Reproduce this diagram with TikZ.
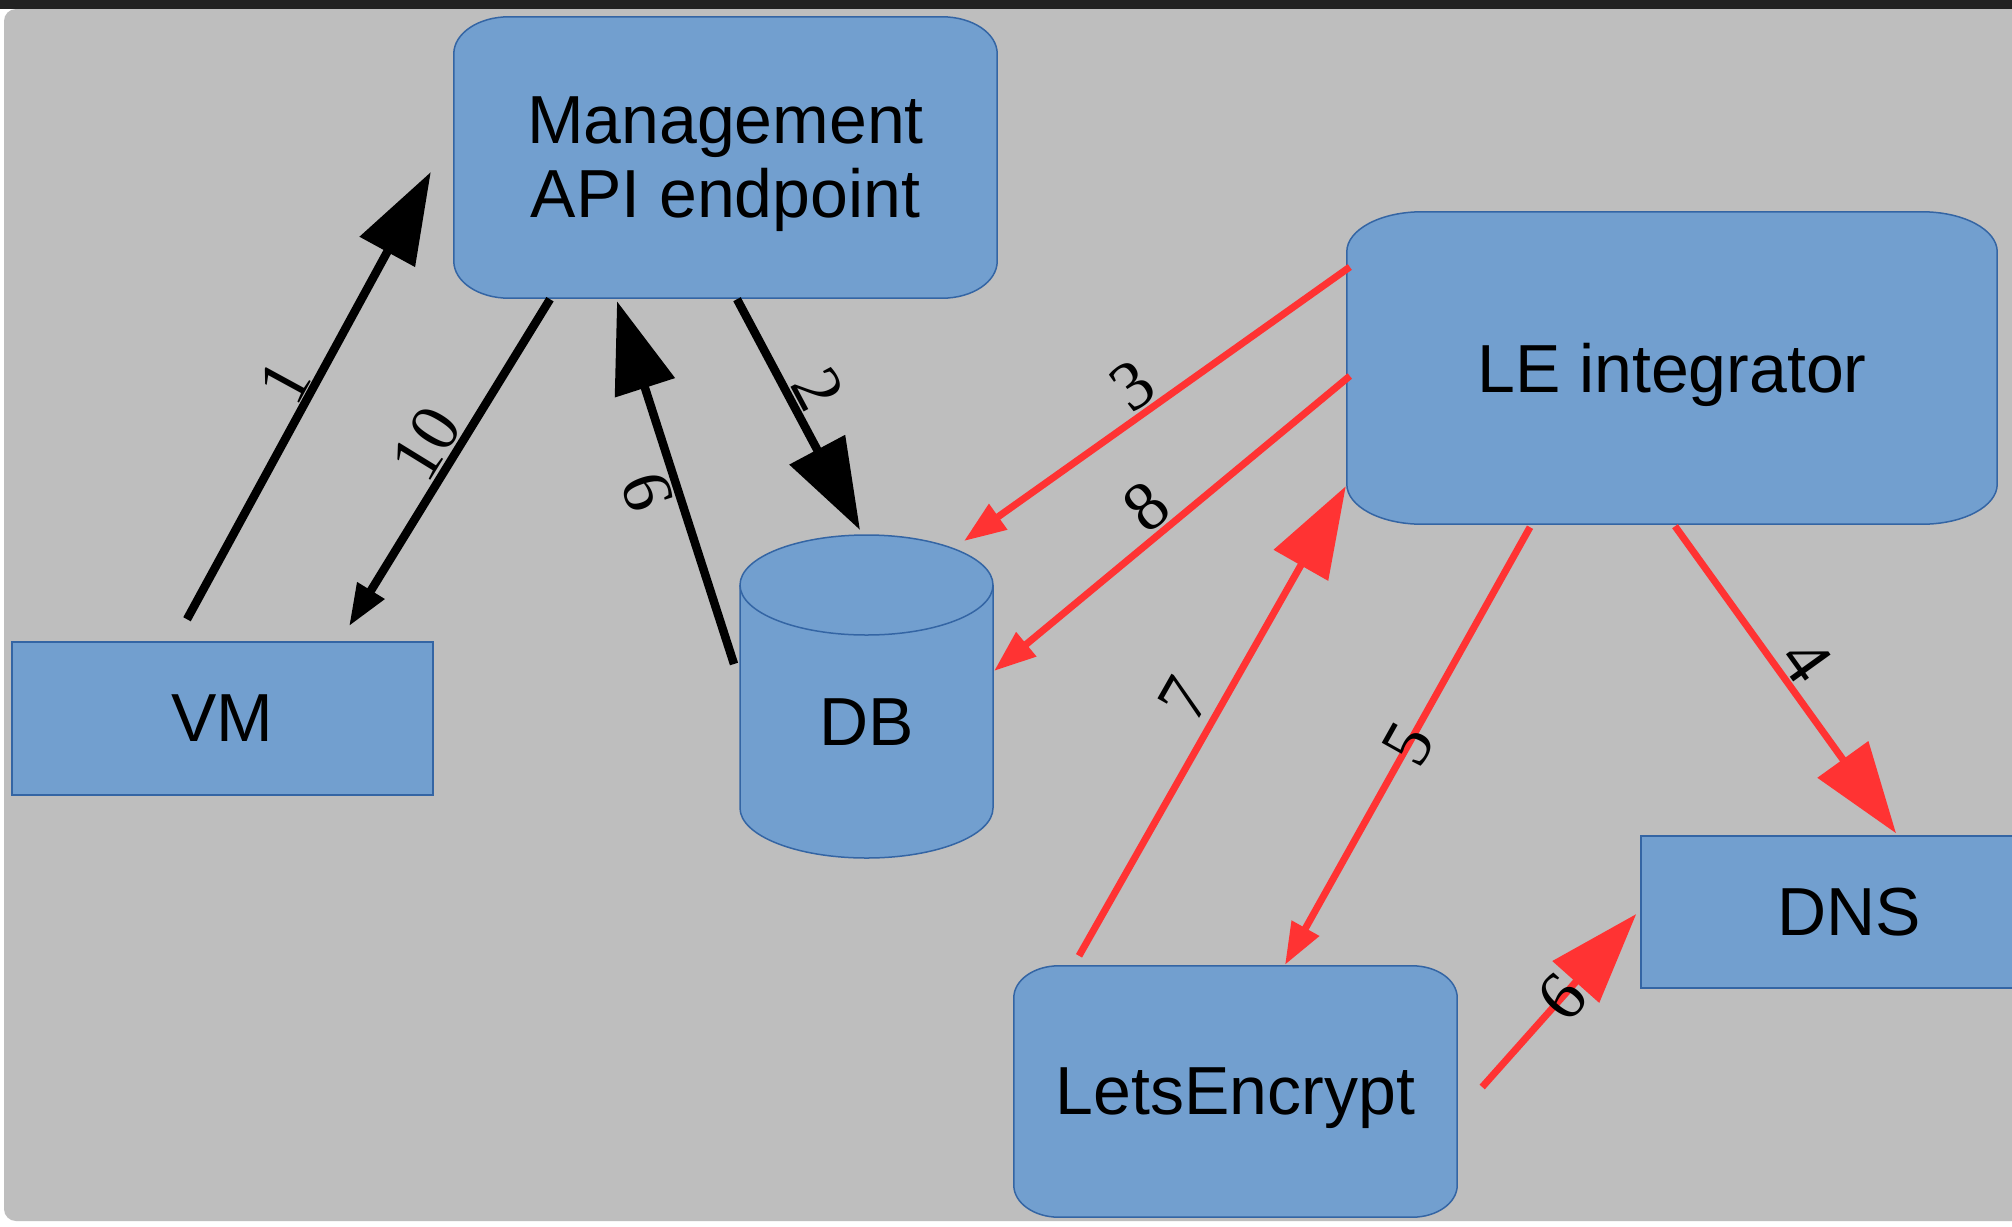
\documentclass[tikz,border=0pt]{standalone}
\usepackage{fontspec}
\setmainfont{Liberation Sans}
\newfontfamily\lblfont{Liberation Serif}
\usetikzlibrary{arrows.meta,backgrounds,calc}
\definecolor{bggrey}{RGB}{190,190,190}
\definecolor{boxfill}{RGB}{114,159,207}
\definecolor{boxline}{RGB}{52,101,164}
\definecolor{arrred}{RGB}{255,51,51}
\definecolor{topbar}{RGB}{34,34,34}
\newcommand\ellbox[3]{%
 \path[shapefill] ([xshift=#2]#1.north west) -- ([xshift=-#2]#1.north east)
 .. controls ([xshift=-0.4477*#2]#1.north east) and ([yshift=-0.4477*#3]#1.north east) .. ([yshift=-#3]#1.north east)
 -- ([yshift=#3]#1.south east)
 .. controls ([yshift=0.4477*#3]#1.south east) and ([xshift=-0.4477*#2]#1.south east) .. ([xshift=-#2]#1.south east)
 -- ([xshift=#2]#1.south west)
 .. controls ([xshift=0.4477*#2]#1.south west) and ([yshift=0.4477*#3]#1.south west) .. ([yshift=#3]#1.south west)
 -- ([yshift=-#3]#1.north west)
 .. controls ([yshift=-0.4477*#3]#1.north west) and ([xshift=0.4477*#2]#1.north west) .. ([xshift=#2]#1.north west)
 -- cycle;}
\begin{document}
\begin{tikzpicture}[x=1pt,y=1pt,
  box/.style={rectangle, inner sep=0pt, font=\fontsize{68}{74}\selectfont, align=center, text depth=0pt},
  shapefill/.style={fill=boxfill, draw=boxline, line width=1.5pt},
  blk/.style={draw=black, line width=8.5pt},
  redarrow/.style={draw=arrred, line width=7pt},
  bigtip/.style={-{Triangle[length=91pt,width=61pt]}},
  smalltip/.style={-{Triangle[length=42pt,width=30pt]}},
  lbl/.style={font=\lblfont\fontsize{70}{74}\selectfont, sloped, inner xsep=0pt, inner ysep=2pt, anchor=south, text=black},
  lblc/.style={lbl, anchor=center, inner ysep=0pt}]
\useasboundingbox (0,-1226) rectangle (2012,0);
\clip (0,-1226) rectangle (2012,0);

% nodes
\node[box, minimum width=543pt, minimum height=281pt] (mgmt) at (725.5,-157.5) {Management\\API endpoint};
\node[box, minimum width=650pt, minimum height=312pt] (le) at (1672,-368) {LE integrator};
\node[box, shapefill, minimum width=421pt, minimum height=153pt] (vm) at (222.5,-718.5) {VM};
\node[box, shapefill, minimum width=416pt, minimum height=152pt] (dns) at (1849,-912) {DNS};
\node[box, minimum width=443pt, minimum height=251pt] (lets) at (1235.5,-1091.5) {LetsEncrypt};
\node[box] (db) at (866.5,-722) {DB};

\begin{scope}[on background layer]
  \fill[white] (0,-1226) rectangle (2012,0);
  \fill[bggrey, rounded corners=12pt] (4,-1221) rectangle (2040,-9);
  \fill[topbar] (0,-8.5) rectangle (2012,0);
  \ellbox{mgmt}{55pt}{37pt}
  \ellbox{le}{75pt}{40pt}
  \ellbox{lets}{45pt}{32pt}
  \path[shapefill] ($(db.center)+(-126.5,137)$) -- ($(db.center)+(-126.5,-86)$)
     arc[start angle=180,end angle=360,x radius=126.5,y radius=50]
     -- ($(db.center)+(126.5,137)$)
     arc[start angle=0,end angle=180,x radius=126.5,y radius=50] -- cycle;
  \draw[draw=boxline, line width=1.5pt] ($(db.center)+(-126.5,137)$)
     arc[start angle=180,end angle=360,x radius=126.5,y radius=50];
\end{scope}

% black connectors
\draw[blk, bigtip] ([shift={(-35.5,22)}]vm.north) -- node[lbl, pos=0.5, inner ysep=0pt] {1} ([shift={(-23,-14.5)}]mgmt.west);
\draw[blk, smalltip] ([shift={(-175.5,-1)}]mgmt.south) -- node[lbl, pos=0.49] {10} ([shift={(126.5,15)}]vm.north);
\draw[blk, bigtip] ([shift={(-132.5,58)}]db.center) -- node[lbl, pos=0.5, allow upside down] {9} ([shift={(-108.5,-3)}]mgmt.south);
\draw[blk, bigtip] ([shift={(11.5,-1)}]mgmt.south) -- node[lbl, pos=0.45] {2} ([shift={(-6.5,192)}]db.center);

% red connectors
\draw[redarrow, smalltip] ([shift={(3,101)}]le.west) -- node[lbl, pos=0.52] {3} ([shift={(97.5,181)}]db.center);
\draw[redarrow, smalltip] ([shift={(3,-8)}]le.west) -- node[lbl, pos=0.52] {8} ([shift={(127.5,51)}]db.center);
\draw[redarrow, bigtip] ([shift={(-156.5,10)}]lets.north) -- node[lbl, pos=0.51, inner ysep=9pt] {7} ([shift={(-1,38)}]le.south west);
\draw[redarrow, smalltip] ([shift={(-142,-3)}]le.south) -- node[lblc, pos=0.495] {5} ([shift={(49.5,1)}]lets.north);
\draw[redarrow, bigtip] ([shift={(3,-2)}]le.south) -- node[lbl, pos=0.49] {4} ([shift={(47,2)}]dns.north);
\draw[redarrow, bigtip] ([shift={(25,4.5)}]lets.east) -- node[lblc, pos=0.52] {6} ([shift={(-4,-2)}]dns.west);
\end{tikzpicture}
\end{document}
